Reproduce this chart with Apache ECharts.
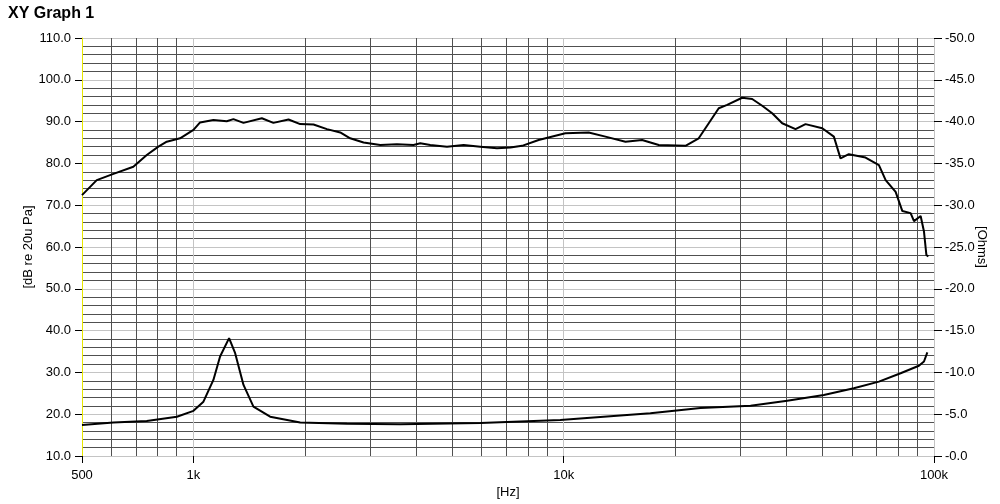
<!DOCTYPE html>
<html>
<head>
<meta charset="utf-8">
<script src="https://cdn.jsdelivr.net/npm/echarts@6/dist/echarts.min.js"></script>
<style>
  html, body { margin: 0; padding: 0; background: #fff; }
  #chart { width: 1000px; height: 504px; }
</style>
</head>
<body>
<div id="chart"></div>
<script>
// SPL curve (Hz / dB re 20u Pa)
var splFreq = [500, 548, 608, 688, 748, 804, 847, 920, 1000, 1042, 1132, 1230, 1282, 1365, 1530, 1644, 1806, 1942,
  2110, 2293, 2491, 2650, 2880, 3195, 3544, 3930, 4098, 4361, 4838, 5366, 5952, 6603, 7176, 7717, 8555,
  10100, 11680, 12960, 14680, 16280, 18060, 21320, 23150, 24640, 26220, 27630, 30330, 32280, 34360, 36560,
  38910, 42270, 44980, 49910, 53650, 55910, 58890, 65340, 71000, 74030, 78770, 82140, 86470, 88300, 92030,
  93960, 95370, 96540];
var splDb = [72.4, 76.0, 77.5, 79.2, 82.0, 84.0, 85.2, 86.0, 88.0, 89.8, 90.4, 90.1, 90.6, 89.7, 90.8, 89.7, 90.5, 89.4,
  89.3, 88.2, 87.4, 86.0, 85.0, 84.4, 84.6, 84.4, 84.8, 84.4, 84.0, 84.4, 84.0, 83.6, 83.8, 84.2, 85.6,
  87.2, 87.4, 86.4, 85.2, 85.6, 84.4, 84.2, 86.0, 89.6, 93.2, 94.0, 95.7, 95.4, 93.8, 92.0,
  89.6, 88.2, 89.4, 88.4, 86.4, 81.2, 82.2, 81.4, 79.6, 76.0, 73.2, 68.6, 68.1, 66.2, 67.4,
  63.7, 58.1, 57.7];

// impedance curve (Hz / Ohms, right axis)
var impFreq = [500, 608, 748, 902, 1000, 1064, 1132, 1180, 1248, 1296, 1365, 1452, 1611, 1942, 2597, 3618, 5952,
  9790, 17140, 23400, 31950, 40140, 50400, 60730, 71000, 81240, 91030, 93960, 95940];
var impOhms = [3.7, 4.0, 4.2, 4.7, 5.4, 6.5, 9.1, 11.9, 14.1, 12.3, 8.5, 5.9, 4.7, 4.0, 3.85, 3.8, 3.95,
  4.3, 5.1, 5.75, 6.0, 6.6, 7.3, 8.1, 8.9, 9.9, 10.8, 11.3, 12.4];

// minor frequency grid
var minorFreq = [600, 700, 800, 900, 2000, 3000, 4000, 5000, 6000, 7000, 8000, 9000,
  20000, 30000, 40000, 50000, 60000, 70000, 80000, 90000];

function pairs(xs, ys) {
  return xs.map(function (x, i) { return [x, ys[i]]; });
}

var font = 'Liberation Sans, Arial, sans-serif';
var light = '#c4c4c4';
var dark = '#505050';

var chart = echarts.init(document.getElementById('chart'));
chart.setOption({
  animation: false,
  backgroundColor: '#fff',
  title: {
    text: 'XY Graph 1',
    left: 3,
    top: 1,
    textStyle: { fontFamily: font, fontSize: 16, fontWeight: 'bold', color: '#000' }
  },
  grid: { left: 82, right: 66, top: 38, bottom: 48, containLabel: false, outerBoundsMode: 'none' },
  xAxis: {
    type: 'log',
    logBase: 10,
    min: 500,
    max: 100000,
    name: '[Hz]',
    nameLocation: 'middle',
    nameGap: 30,
    nameMoveOverlap: false,
    nameTextStyle: { fontFamily: font, fontSize: 13, color: '#000' },
    axisLine: { show: false },
    axisTick: { show: true, length: 7, lineStyle: { color: '#000' } },
    axisLabel: {
      margin: 13,
      fontFamily: font, fontSize: 13, color: '#000',
      formatter: function (v) { return v >= 1000 ? (v / 1000) + 'k' : String(v); }
    },
    splitLine: { show: true, lineStyle: { color: light, width: 1 } },
    minorTick: { show: false },
    minorSplitLine: { show: false }
  },
  yAxis: [{
    type: 'value',
    min: 10,
    max: 110,
    interval: 10,
    name: '[dB re 20u Pa]',
    nameLocation: 'middle',
    nameGap: 47,
    nameMoveOverlap: false,
    nameTextStyle: { fontFamily: font, fontSize: 13, color: '#000' },
    axisLine: { show: true, lineStyle: { color: '#e6e600', width: 1 } },
    axisTick: { show: true, length: 7, lineStyle: { color: '#000' } },
    axisLabel: {
      margin: 11,
      fontFamily: font, fontSize: 13, color: '#000',
      formatter: function (v) { return v.toFixed(1); }
    },
    splitLine: { show: true, lineStyle: { color: light, width: 1 } },
    minorTick: { show: false, splitNumber: 5 },
    minorSplitLine: { show: true, lineStyle: { color: dark, width: 1 } }
  }, {
    type: 'value',
    position: 'right',
    min: 0,
    max: 50,
    interval: 5,
    name: '[Ohms]',
    nameLocation: 'middle',
    nameGap: 41,
    nameRotate: -90,
    nameMoveOverlap: false,
    nameTextStyle: { fontFamily: font, fontSize: 13, color: '#000' },
    axisLine: { show: false },
    axisTick: { show: true, length: 8, lineStyle: { color: '#000' } },
    axisLabel: {
      margin: 11,
      fontFamily: font, fontSize: 13, color: '#000',
      formatter: function (v) { return '-' + v.toFixed(1); }
    },
    splitLine: { show: false }
  }],
  series: [{
    name: 'grid',
    type: 'line',
    data: [],
    silent: true,
    markLine: {
      z: 1,
      silent: true,
      symbol: ['none', 'none'],
      label: { show: false },
      emphasis: { disabled: true },
      lineStyle: { type: 'solid', color: dark, width: 1 },
      data: minorFreq.map(function (f) { return { xAxis: f }; })
    }
  }, {
    name: 'SPL',
    type: 'line',
    z: 3,
    data: pairs(splFreq, splDb),
    showSymbol: false,
    symbol: 'none',
    lineStyle: { color: '#000', width: 2 }
  }, {
    name: 'Impedance',
    type: 'line',
    yAxisIndex: 1,
    z: 3,
    data: pairs(impFreq, impOhms),
    showSymbol: false,
    symbol: 'none',
    lineStyle: { color: '#000', width: 2 }
  }]
});
</script>
</body>
</html>
